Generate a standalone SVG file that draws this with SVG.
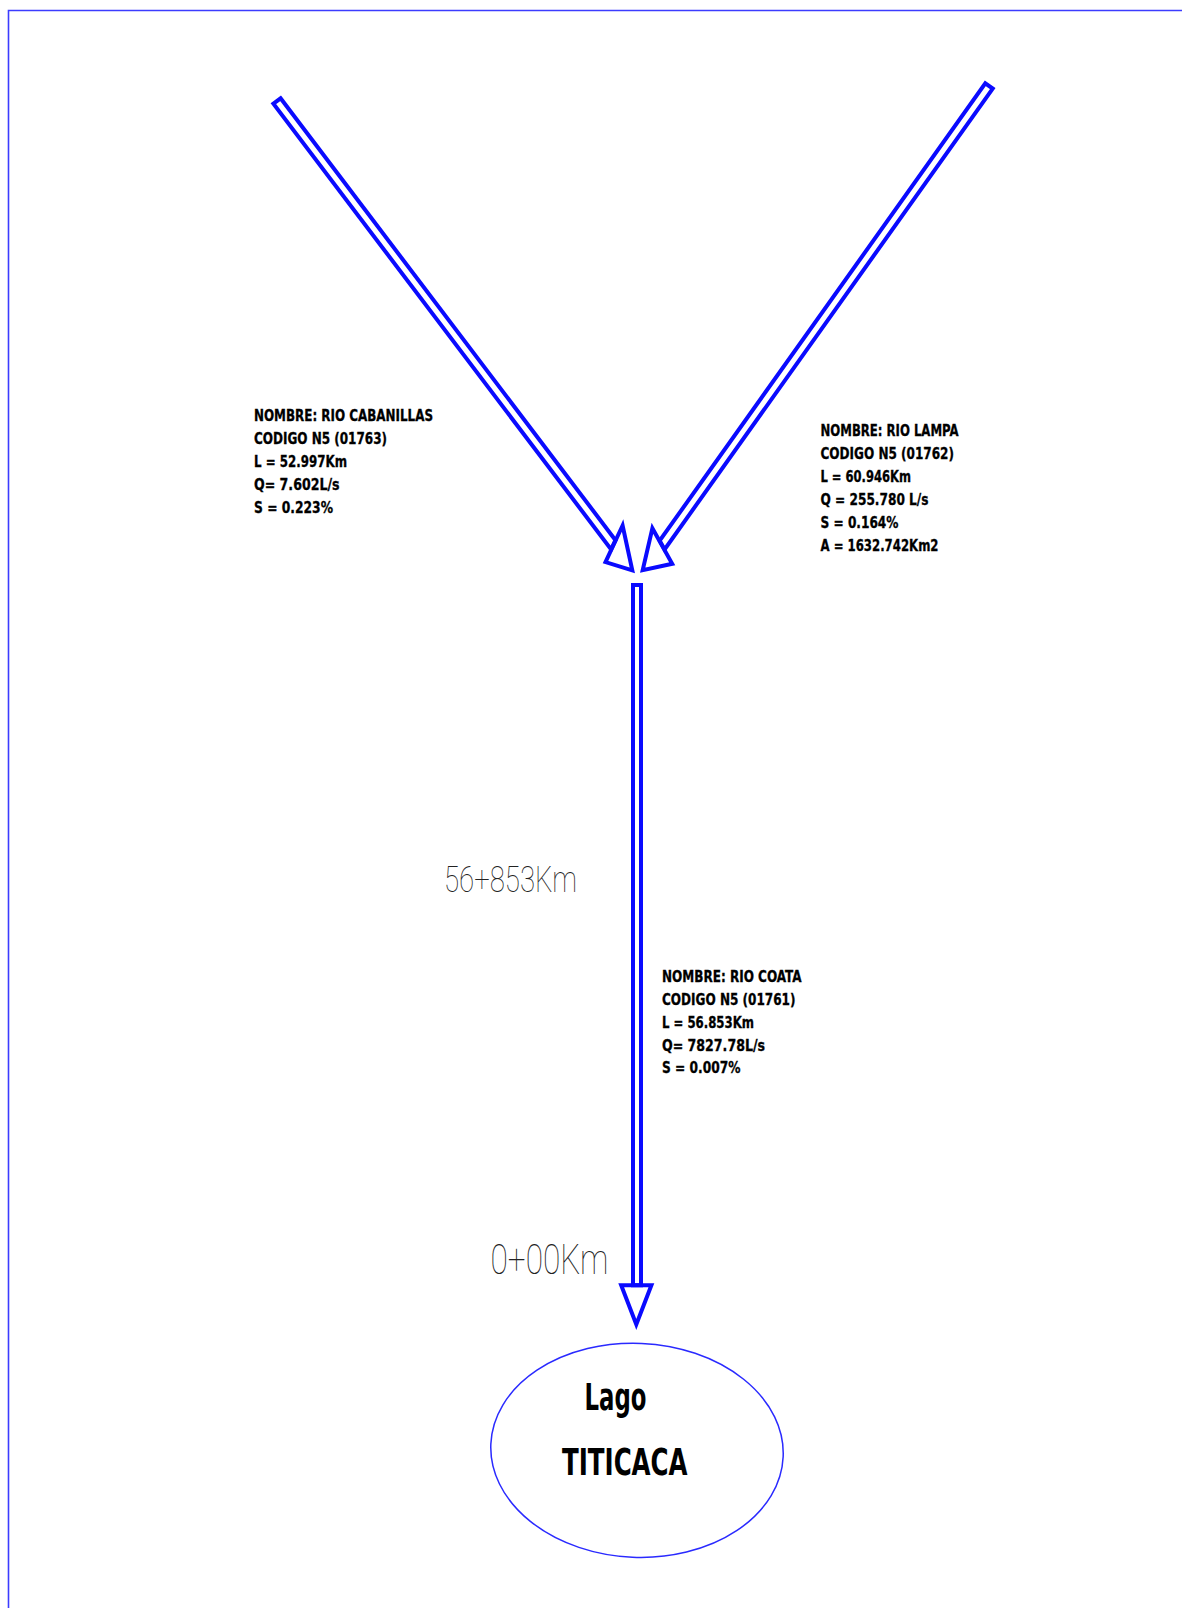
<svg xmlns="http://www.w3.org/2000/svg" width="1182" height="1608" viewBox="0 0 1182 1608">
<style>
.frame{fill:none;stroke:#3c3cff;stroke-width:1.6}
.arr{fill:none;stroke:#0a0aff;stroke-width:4;stroke-linejoin:miter;stroke-miterlimit:10}
.lbl{font-family:"DejaVu Sans Condensed","DejaVu Sans",sans-serif;font-weight:bold;font-size:15.5px;fill:#000;stroke:#000;stroke-width:0.3}
.lake{font-family:"DejaVu Sans Condensed","DejaVu Sans",sans-serif;font-weight:bold;font-size:37px;fill:#000}
.km{font-family:Roboto,Inter,"DejaVu Sans",sans-serif;font-weight:100;fill:#222}
</style>
<rect width="1182" height="1608" fill="#fff"/>
<g id="frame">
<path class="frame" d="M8.5 1608 V10.5 H1182"/>
</g>
<g id="connectors">
<g id="arrow-cabanillas">
<polygon class="arr" points="280.6,98.3 615.5,540.2 611.1,549.4 273.4,103.7"/>
<polygon class="arr" points="622.6,525.5 605.5,562.1 632.3,570.4"/>
</g>
<g id="arrow-lampa">
<polygon class="arr" points="992.7,88.6 664.6,549.4 659.7,540.7 985.3,83.4"/>
<polygon class="arr" points="652.4,528.2 672.2,563.8 642.7,570.1"/>
</g>
<g id="arrow-coata">
<polygon class="arr" points="633,585 641,585 641,1285.3 633,1285.3"/>
<polygon class="arr" points="621.2,1285.3 651.4,1285.3 636.3,1324.4"/>
</g>
</g>
<g id="label-cabanillas">
<text class="lbl" x="254" y="421" textLength="179" lengthAdjust="spacingAndGlyphs">NOMBRE: RIO CABANILLAS</text>
<text class="lbl" x="254" y="444" textLength="133" lengthAdjust="spacingAndGlyphs">CODIGO N5 (01763)</text>
<text class="lbl" x="254" y="467" textLength="93" lengthAdjust="spacingAndGlyphs">L = 52.997Km</text>
<text class="lbl" x="254" y="490" textLength="85.5" lengthAdjust="spacingAndGlyphs">Q= 7.602L/s</text>
<text class="lbl" x="254" y="512.7" textLength="79" lengthAdjust="spacingAndGlyphs">S = 0.223%</text>
</g>
<g id="label-lampa">
<text class="lbl" x="820.5" y="435.7" textLength="138" lengthAdjust="spacingAndGlyphs">NOMBRE: RIO LAMPA</text>
<text class="lbl" x="820.5" y="459" textLength="133.5" lengthAdjust="spacingAndGlyphs">CODIGO N5 (01762)</text>
<text class="lbl" x="820.5" y="482.3" textLength="90.5" lengthAdjust="spacingAndGlyphs">L = 60.946Km</text>
<text class="lbl" x="820.5" y="505" textLength="108" lengthAdjust="spacingAndGlyphs">Q = 255.780 L/s</text>
<text class="lbl" x="820.5" y="527.7" textLength="78" lengthAdjust="spacingAndGlyphs">S = 0.164%</text>
<text class="lbl" x="820.5" y="550.7" textLength="118" lengthAdjust="spacingAndGlyphs">A = 1632.742Km2</text>
</g>
<g id="label-coata">
<text class="lbl" x="662" y="981.7" textLength="139.5" lengthAdjust="spacingAndGlyphs">NOMBRE: RIO COATA</text>
<text class="lbl" x="662" y="1005" textLength="133.5" lengthAdjust="spacingAndGlyphs">CODIGO N5 (01761)</text>
<text class="lbl" x="662" y="1027.7" textLength="92" lengthAdjust="spacingAndGlyphs">L = 56.853Km</text>
<text class="lbl" x="662" y="1050.7" textLength="103" lengthAdjust="spacingAndGlyphs">Q= 7827.78L/s</text>
<text class="lbl" x="662" y="1073.3" textLength="78.5" lengthAdjust="spacingAndGlyphs">S = 0.007%</text>
</g>
<g id="km-56">
<text class="km" x="444" y="892" font-size="37" textLength="133" lengthAdjust="spacingAndGlyphs">56+853Km</text>
</g>
<g id="km-0">
<text class="km" x="490.5" y="1274" font-size="42" textLength="118" lengthAdjust="spacingAndGlyphs">0+00Km</text>
</g>
<g id="lago-titicaca">
<ellipse cx="637" cy="1450.3" rx="146.3" ry="107" fill="none" stroke="#2a2aff" stroke-width="1.5" transform="rotate(2.5 637 1450.3)"/>
<text class="lake" x="584.5" y="1410" textLength="62" lengthAdjust="spacingAndGlyphs">Lago</text>
<text class="lake" x="562" y="1475" textLength="125.5" lengthAdjust="spacingAndGlyphs">TITICACA</text>
</g>
</svg>
